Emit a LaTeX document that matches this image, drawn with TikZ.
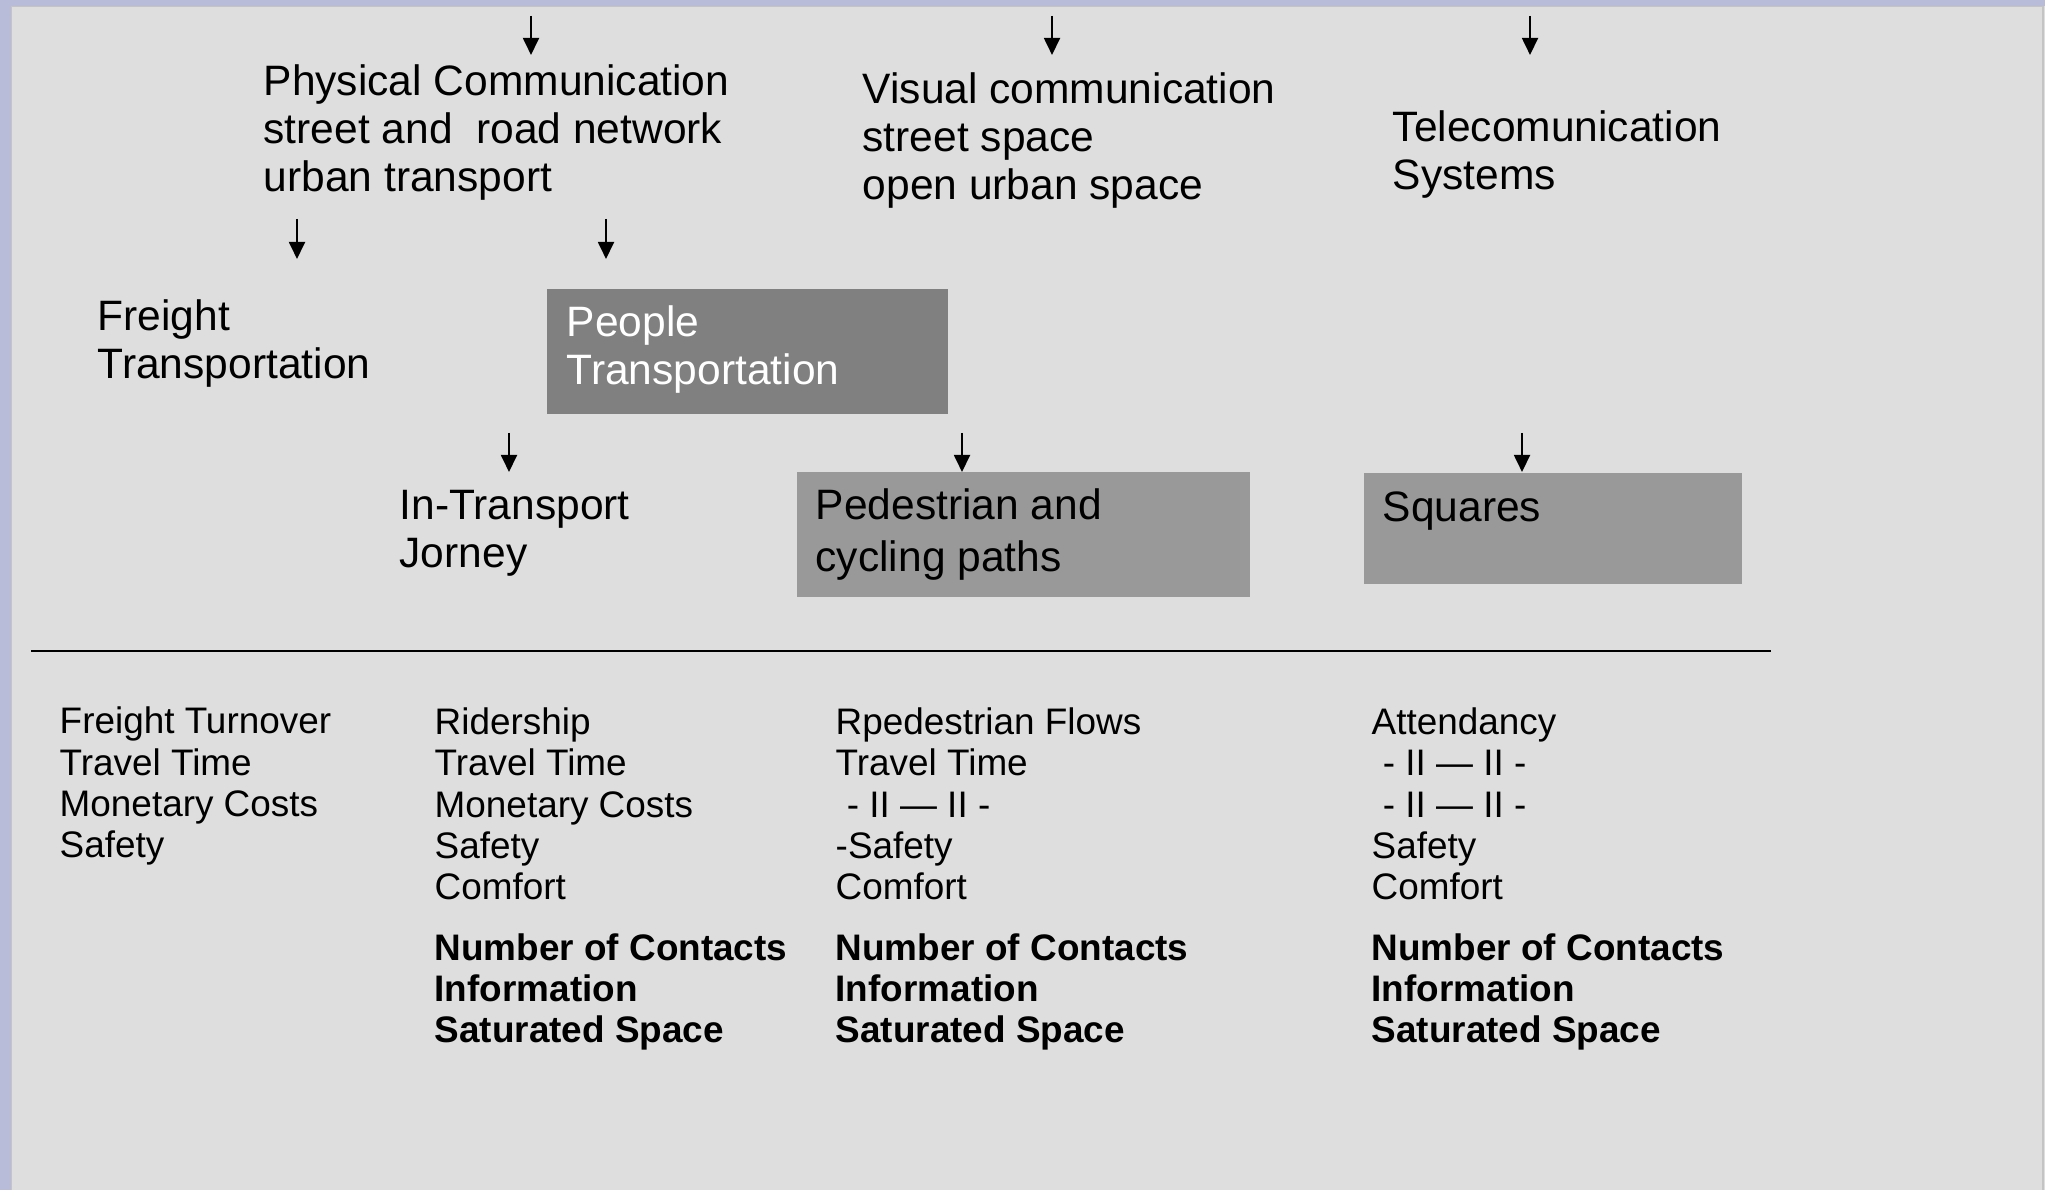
\documentclass[tikz,border=0pt]{standalone}
\usepackage{fontspec}
\setmainfont{Liberation Sans}
\usetikzlibrary{arrows.meta}
\definecolor{bg}{HTML}{DEDEDE}
\definecolor{frm}{HTML}{B8BCD8}
\definecolor{edg}{HTML}{C4C4C4}
\definecolor{g0}{HTML}{808080}
\definecolor{g1}{HTML}{999999}

% text nodes sit on the baseline of their last line
\tikzset{
  big/.style={anchor=base west,inner sep=0pt,align=left,font=\fontsize{12.1}{13.66}\selectfont},
  small/.style={anchor=base west,inner sep=0pt,align=left,font=\fontsize{10.5}{11.8}\selectfont},
  bold/.style={small,font=\fontsize{10.5}{11.8}\selectfont\bfseries},
  box/.style={anchor=north west,inner sep=0pt,fill=#1},
  arr/.style={line width=0.55pt,-{Triangle[length=0.17cm,width=0.16cm]}},
}

\begin{document}
\begin{tikzpicture}[scale=1.0]

\useasboundingbox (0,0) rectangle (20.45,11.90);
\fill[frm] (0,0) rectangle (20.45,11.90);
\fill[bg] (0.11,0) rectangle (20.45,11.84);
\draw[edg,line width=0.5pt] (0.115,0) -- (0.115,11.835) -- (20.43,11.835) -- (20.43,0);

%\draw[red] (0,0) grid (20,11);

\coordinate (a1) at (5.31,11.74);  \coordinate (b1) at (5.31,11.35);
\coordinate (a2) at (10.52,11.74); \coordinate (b2) at (10.52,11.35);
\coordinate (a3) at (15.30,11.74); \coordinate (b3) at (15.30,11.35);

\node[big] (phys) at (2.63,9.98) {Physical Communication\\street and~~road network\\urban transport};
\node[big] (vis) at (8.62,9.90) {Visual communication\\street space\\open urban space};
\node[big] (tele) at (13.92,10.00) {Telecomunication\\Systems};

\draw[arr] (a1) -- (b1);
\draw[arr] (a2) -- (b2);
\draw[arr] (a3) -- (b3);

\coordinate (c1) at (2.97,9.71); \coordinate (d1) at (2.97,9.31);
\coordinate (c2) at (6.06,9.71); \coordinate (d2) at (6.06,9.31);

\draw[arr] (c1) -- (d1);
\draw[arr] (c2) -- (d2);

\node[big] (frt) at (0.97,8.11) {Freight\\Transportation};
\node[box=g0,minimum width=4.01cm,minimum height=1.25cm] (pplbox) at (5.46,9.02) {};
\node[big,text=white] (ppl) at (5.66,8.05) {People\\Transportation};

\coordinate (e1) at (5.09,7.57);  \coordinate (f1) at (5.09,7.18);
\coordinate (e2) at (9.62,7.57);  \coordinate (f2) at (9.62,7.18);
\coordinate (e3) at (15.22,7.57); \coordinate (f3) at (15.22,7.18);

\draw[arr] (e1) -- (f1);
\draw[arr] (e2) -- (f2);
\draw[arr] (e3) -- (f3);

\node[big] (intr) at (3.99,6.22) {In-Transport\\Jorney};
\node[box=g1,minimum width=4.53cm,minimum height=1.25cm] (pedbox) at (7.96,7.19) {};
\node[big,font=\fontsize{12.1}{14.8}\selectfont] (ped) at (8.15,6.18) {Pedestrian and\\cycling paths};
\node[box=g1,minimum width=3.78cm,minimum height=1.11cm] (sqbox) at (13.63,7.18) {};
\node[big] (sq) at (13.82,6.68) {Squares};

\coordinate (l1) at (0.31,5.39);
\coordinate (l2) at (17.71,5.39);
\draw[line width=0.5pt] (l1) -- (l2);

\node[small] (m1) at (0.59,3.32) {Freight Turnover\\Travel Time\\Monetary Costs\\Safety};
\node[small] (m2) at (4.34,2.90) {Ridership\\Travel Time\\Monetary Costs\\Safety\\Comfort};
\node[small] (m3) at (8.35,2.90) {Rpedestrian Flows\\Travel Time\\\hspace{0.3em}- II --- II -\\-Safety\\Comfort};
\node[small] (m4) at (13.71,2.90) {Attendancy\\\hspace{0.3em}- II --- II -\\\hspace{0.3em}- II --- II -\\Safety\\Comfort};

\node[bold] (n2) at (4.34,1.47) {Number of Contacts\\Information\\Saturated Space};
\node[bold] (n3) at (8.35,1.47) {Number of Contacts\\Information\\Saturated Space};
\node[bold] (n4) at (13.71,1.47) {Number of Contacts\\Information\\Saturated Space};

\end{tikzpicture}
\end{document}
